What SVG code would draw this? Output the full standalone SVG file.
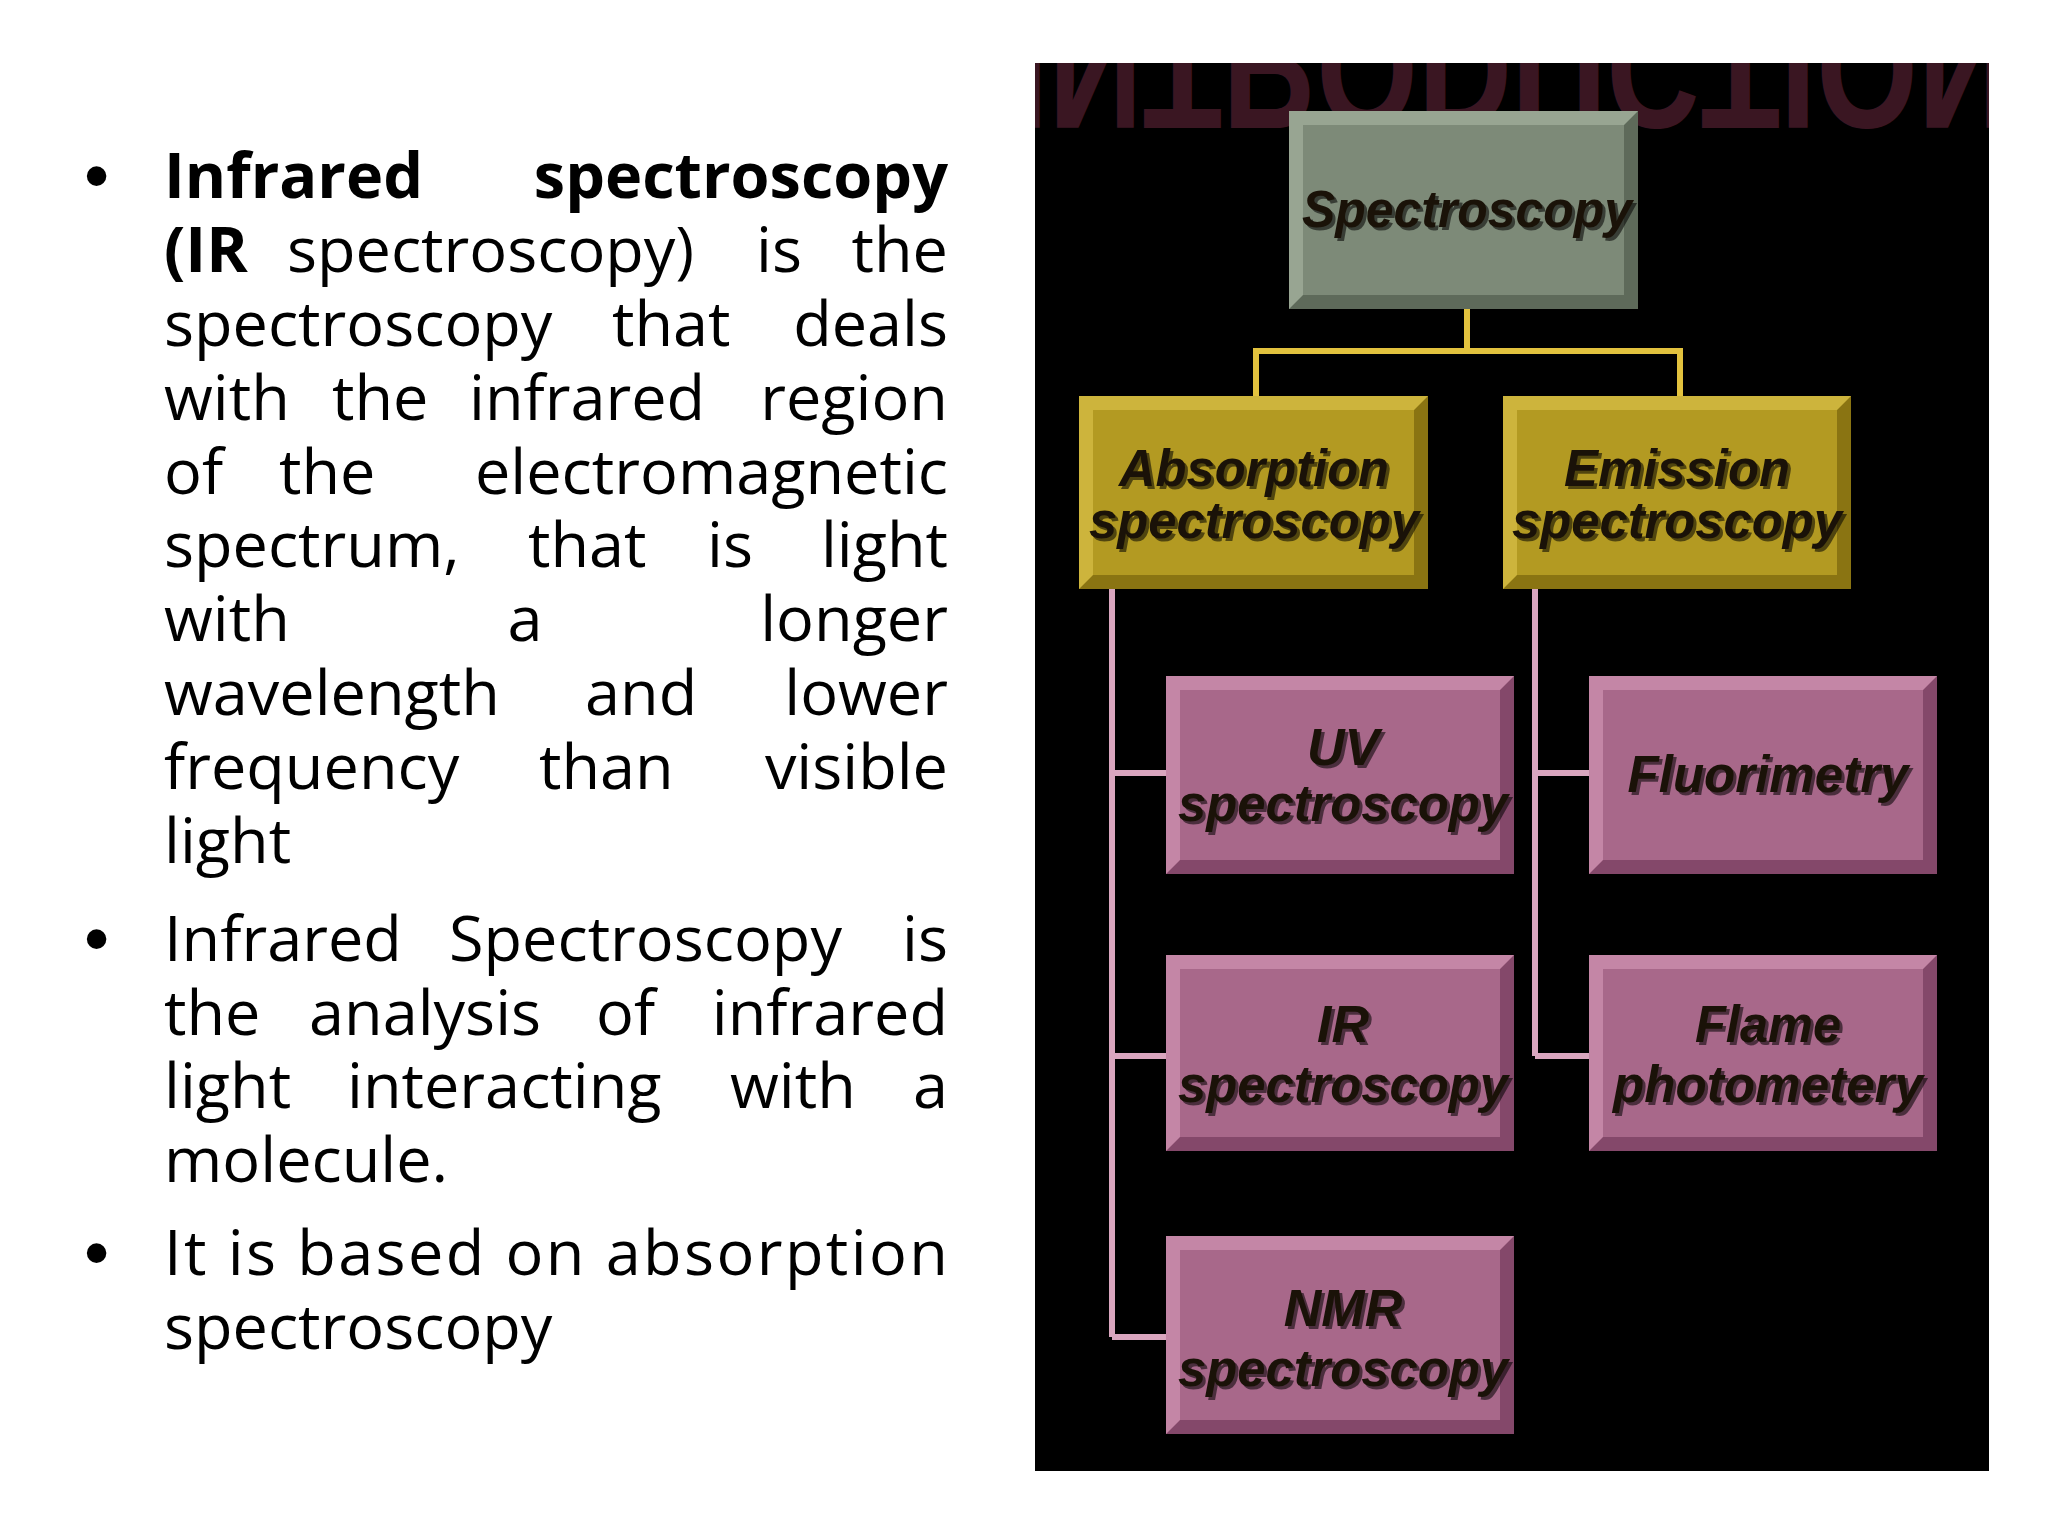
<svg xmlns="http://www.w3.org/2000/svg" width="2048" height="1536" viewBox="0 0 2048 1536">
<defs>
<style>
.body{font-family:"Open Sans","Liberation Sans",sans-serif;font-size:63px;fill:#000}
.e{text-anchor:end}
.b{font-weight:bold}
.bu{font-family:"Liberation Sans",sans-serif;font-size:72px;fill:#000}
.lbl{font-family:"Liberation Sans",Arial,sans-serif;font-weight:bold;font-style:italic;font-size:52px;fill:#1a1208;text-anchor:middle}
.sh{fill:#000;opacity:0.55}
.gy{fill:#7d8a78}.gyL{fill:#98a592}.gyD{fill:#5e6a5a}
.gd{fill:#b39a22}.gdL{fill:#cdb43c}.gdD{fill:#8a7412}
.pk{fill:#a8688a}.pkL{fill:#c486a6}.pkD{fill:#84486a}
.cy{stroke:#e2c23e;stroke-width:6;fill:none}
.cp{stroke:#d9a6bf;stroke-width:6;fill:none}
</style>
<clipPath id="pc"><rect x="1035" y="63" width="954" height="1408"/></clipPath>
</defs>
<rect width="2048" height="1536" fill="#fff"/>
<g id="text">
<text class="bu" x="84" y="200">•</text>
<text class="body b" x="164" y="198">Infrared</text><text class="body b e" x="948" y="198">spectroscopy</text>
<text class="body" x="164" y="272"><tspan class="b">(IR</tspan></text><text class="body" x="287" y="272">spectroscopy)</text><text class="body" x="756" y="272">is</text><text class="body e" x="948" y="272">the</text>
<text class="body" x="164" y="346">spectroscopy</text><text class="body" x="612" y="346">that</text><text class="body e" x="948" y="346">deals</text>
<text class="body" x="164" y="420">with</text><text class="body" x="332" y="420">the</text><text class="body" x="469" y="420">infrared</text><text class="body e" x="948" y="420">region</text>
<text class="body" x="164" y="494">of</text><text class="body" x="279" y="494">the</text><text class="body e" x="948" y="494">electromagnetic</text>
<text class="body" x="164" y="567">spectrum,</text><text class="body" x="528" y="567">that</text><text class="body" x="707" y="567">is</text><text class="body e" x="948" y="567">light</text>
<text class="body" x="164" y="641">with</text><text class="body" x="525" y="641" text-anchor="middle">a</text><text class="body e" x="948" y="641">longer</text>
<text class="body" x="164" y="715">wavelength</text><text class="body" x="585" y="715">and</text><text class="body e" x="948" y="715">lower</text>
<text class="body" x="164" y="789">frequency</text><text class="body" x="539" y="789">than</text><text class="body e" x="948" y="789">visible</text>
<text class="body" x="164" y="863">light</text>
<text class="bu" x="84" y="963">•</text>
<text class="body" x="164" y="961">Infrared</text><text class="body" x="449" y="961">Spectroscopy</text><text class="body e" x="948" y="961">is</text>
<text class="body" x="164" y="1035">the</text><text class="body" x="309" y="1035">analysis</text><text class="body" x="596" y="1035">of</text><text class="body e" x="948" y="1035">infrared</text>
<text class="body" x="164" y="1108">light</text><text class="body" x="347" y="1108">interacting</text><text class="body" x="730" y="1108">with</text><text class="body e" x="948" y="1108">a</text>
<text class="body" x="164" y="1182">molecule.</text>
<text class="bu" x="84" y="1277">•</text>
<text class="body" x="164" y="1275" textLength="784" lengthAdjust="spacing">It is based on absorption</text>
<text class="body" x="164" y="1349">spectroscopy</text>
</g>
<rect x="1035" y="63" width="954" height="1408" fill="#000"/>
<g clip-path="url(#pc)">
<text transform="translate(0,63) scale(1,-1)" x="1512" y="53" text-anchor="middle" font-family="Liberation Sans,sans-serif" font-weight="bold" font-size="170" fill="#3a1622" textLength="1000" lengthAdjust="spacingAndGlyphs">INTRODUCTION</text>
</g>
<g id="connectors">
<path class="cy" d="M1467 309V351M1256 396V351H1680V396"/>
<path class="cp" d="M1112 589V1337M1112 773H1166M1112 1056H1166M1112 1337H1166"/>
<path class="cp" d="M1535 589V1056M1535 773H1589M1535 1056H1589"/>
</g>
<g id="n-spectroscopy">
<rect class="gyD" x="1289" y="111" width="349" height="198"/>
<polygon class="gyL" points="1289,111 1638,111 1624,125 1303,125 1303,295 1289,309"/>
<rect class="gy" x="1303" y="125" width="321" height="170"/>
<text class="lbl sh" x="1470" y="230" textLength="330" lengthAdjust="spacingAndGlyphs">Spectroscopy</text>
<text class="lbl" x="1467" y="227" textLength="330" lengthAdjust="spacingAndGlyphs">Spectroscopy</text>
</g>
<g id="n-absorption">
<rect class="gdD" x="1079" y="396" width="349" height="193"/>
<polygon class="gdL" points="1079,396 1428,396 1414,410 1093,410 1093,575 1079,589"/>
<rect class="gd" x="1093" y="410" width="321" height="165"/>
<text class="lbl sh" x="1257" y="489" textLength="270" lengthAdjust="spacingAndGlyphs">Absorption</text>
<text class="lbl" x="1254" y="486" textLength="270" lengthAdjust="spacingAndGlyphs">Absorption</text>
<text class="lbl sh" x="1257" y="541" textLength="330" lengthAdjust="spacingAndGlyphs">spectroscopy</text>
<text class="lbl" x="1254" y="538" textLength="330" lengthAdjust="spacingAndGlyphs">spectroscopy</text>
</g>
<g id="n-emission">
<rect class="gdD" x="1503" y="396" width="348" height="193"/>
<polygon class="gdL" points="1503,396 1851,396 1837,410 1517,410 1517,575 1503,589"/>
<rect class="gd" x="1517" y="410" width="320" height="165"/>
<text class="lbl sh" x="1680" y="489" textLength="226" lengthAdjust="spacingAndGlyphs">Emission</text>
<text class="lbl" x="1677" y="486" textLength="226" lengthAdjust="spacingAndGlyphs">Emission</text>
<text class="lbl sh" x="1680" y="541" textLength="330" lengthAdjust="spacingAndGlyphs">spectroscopy</text>
<text class="lbl" x="1677" y="538" textLength="330" lengthAdjust="spacingAndGlyphs">spectroscopy</text>
</g>
<g id="n-uv">
<rect class="pkD" x="1166" y="676" width="348" height="198"/>
<polygon class="pkL" points="1166,676 1514,676 1500,690 1180,690 1180,860 1166,874"/>
<rect class="pk" x="1180" y="690" width="320" height="170"/>
<text class="lbl sh" x="1346" y="768">UV</text>
<text class="lbl" x="1343" y="765">UV</text>
<text class="lbl sh" x="1346" y="824" textLength="330" lengthAdjust="spacingAndGlyphs">spectroscopy</text>
<text class="lbl" x="1343" y="821" textLength="330" lengthAdjust="spacingAndGlyphs">spectroscopy</text>
</g>
<g id="n-ir">
<rect class="pkD" x="1166" y="955" width="348" height="196"/>
<polygon class="pkL" points="1166,955 1514,955 1500,969 1180,969 1180,1137 1166,1151"/>
<rect class="pk" x="1180" y="969" width="320" height="168"/>
<text class="lbl sh" x="1346" y="1045">IR</text>
<text class="lbl" x="1343" y="1042">IR</text>
<text class="lbl sh" x="1346" y="1105" textLength="330" lengthAdjust="spacingAndGlyphs">spectroscopy</text>
<text class="lbl" x="1343" y="1102" textLength="330" lengthAdjust="spacingAndGlyphs">spectroscopy</text>
</g>
<g id="n-nmr">
<rect class="pkD" x="1166" y="1236" width="348" height="198"/>
<polygon class="pkL" points="1166,1236 1514,1236 1500,1250 1180,1250 1180,1420 1166,1434"/>
<rect class="pk" x="1180" y="1250" width="320" height="170"/>
<text class="lbl sh" x="1346" y="1329">NMR</text>
<text class="lbl" x="1343" y="1326">NMR</text>
<text class="lbl sh" x="1346" y="1389" textLength="330" lengthAdjust="spacingAndGlyphs">spectroscopy</text>
<text class="lbl" x="1343" y="1386" textLength="330" lengthAdjust="spacingAndGlyphs">spectroscopy</text>
</g>
<g id="n-fluorimetry">
<rect class="pkD" x="1589" y="676" width="348" height="198"/>
<polygon class="pkL" points="1589,676 1937,676 1923,690 1603,690 1603,860 1589,874"/>
<rect class="pk" x="1603" y="690" width="320" height="170"/>
<text class="lbl sh" x="1771" y="795" textLength="281" lengthAdjust="spacingAndGlyphs">Fluorimetry</text>
<text class="lbl" x="1768" y="792" textLength="281" lengthAdjust="spacingAndGlyphs">Fluorimetry</text>
</g>
<g id="n-flame">
<rect class="pkD" x="1589" y="955" width="348" height="196"/>
<polygon class="pkL" points="1589,955 1937,955 1923,969 1603,969 1603,1137 1589,1151"/>
<rect class="pk" x="1603" y="969" width="320" height="168"/>
<text class="lbl sh" x="1771" y="1045" textLength="146" lengthAdjust="spacingAndGlyphs">Flame</text>
<text class="lbl" x="1768" y="1042" textLength="146" lengthAdjust="spacingAndGlyphs">Flame</text>
<text class="lbl sh" x="1771" y="1105" textLength="310" lengthAdjust="spacingAndGlyphs">photometery</text>
<text class="lbl" x="1768" y="1102" textLength="310" lengthAdjust="spacingAndGlyphs">photometery</text>
</g>
</svg>
